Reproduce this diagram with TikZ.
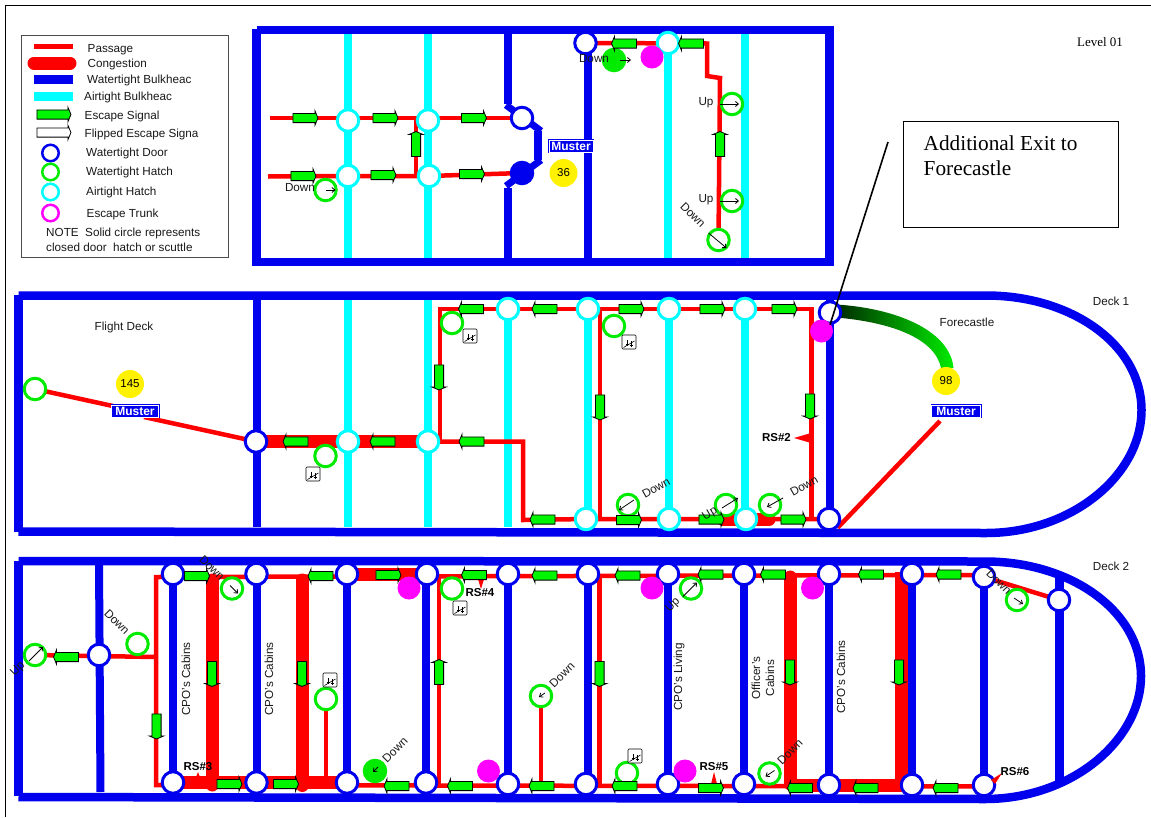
\documentclass[tikz,border=0pt]{standalone}
\usepackage{fontspec}
\setmainfont{Liberation Sans}
\newfontfamily\timesf{Liberation Serif}
\usetikzlibrary{shapes.arrows,arrows.meta,calc}
\definecolor{wtblue}{RGB}{0,0,238}
\definecolor{atcyan}{RGB}{0,255,255}
\definecolor{psred}{RGB}{255,0,0}
\definecolor{sgreen}{RGB}{0,235,0}
\definecolor{sigfill}{RGB}{0,245,0}
\definecolor{trunkm}{RGB}{255,0,255}
\definecolor{dkgreen}{RGB}{0,40,0}
\pgfdeclarelayer{bulk}
\pgfdeclarelayer{pass}
\pgfsetlayers{bulk,pass,main}
\tikzset{
  wt/.style={draw=wtblue,line width=8.5pt},
  wtv/.style={draw=wtblue,line width=8pt},
  atbh/.style={draw=atcyan,line width=8pt},
  passage/.style={draw=psred,line width=4.5pt,line join=miter},
  cong/.style={draw=psred,line width=13pt},
  congr/.style={cong,line cap=round},
  door/.style={circle,draw=wtblue,fill=white,line width=3pt,minimum size=21.5pt,inner sep=0pt},
  doors/.style={door,fill=wtblue},
  air/.style={door,draw=atcyan},
  hatch/.style={door,draw=sgreen},
  hatchs/.style={door,draw=sgreen,fill=sgreen},
  trunk/.style={circle,fill=trunkm,minimum size=23pt,inner sep=0pt},
  crowd/.style={circle,fill=yellow,minimum size=28pt,inner sep=0pt,font=\fontsize{11.5}{13}\selectfont},
  sig/.style={single arrow,draw=black,fill=sigfill,line width=.8pt,minimum height=25pt,
     inner xsep=0pt,inner ysep=4.2pt,single arrow head extend=2.6pt,single arrow tip angle=135},
  sigR/.style={sig},
  sigL/.style={sig,rotate=180},
  sigU/.style={sig,rotate=90},
  sigD/.style={sig,rotate=-90},
  muster/.style={rectangle,fill=wtblue,draw=wtblue,double=white,double distance=.8pt,line width=.6pt,text=white,
     font=\bfseries\fontsize{12}{13}\selectfont,minimum width=44pt,minimum height=12pt,inner sep=0pt},
  lbl/.style={font=\fontsize{11.7}{13}\selectfont,inner sep=0pt,text=black!90},
  lgd/.style={lbl,anchor=west},
  boldlbl/.style={font=\bfseries\fontsize{11.5}{13}\selectfont,inner sep=0pt},
  stair/.style={rectangle,draw=black,fill=white,rounded corners=1pt,line width=.6pt,minimum size=14pt,inner sep=0pt,
    path picture={
      \draw[line width=.6pt] ([shift={(1.5pt,1.5pt)}]path picture bounding box.south west) -- ([shift={(-1.5pt,-6pt)}]path picture bounding box.north east);
      \draw[line width=.6pt] ([shift={(-1.5pt,2pt)}]path picture bounding box.center) -- ++(0,-6pt);
      \draw[line width=.6pt] ([shift={(2pt,1pt)}]path picture bounding box.center) -- ++(0,-6pt);
      \draw[line width=.6pt] ([shift={(-3pt,-2.5pt)}]path picture bounding box.center) -- ++(3pt,0);
      \draw[line width=.6pt] ([shift={(.5pt,-3.5pt)}]path picture bounding box.center) -- ++(3pt,0);
    }},
  tinyarr/.style={draw=black,line width=.8pt,-{Straight Barb[length=3pt,width=5pt]}}
}
\begin{document}
\begin{tikzpicture}[x=1pt,y=-1pt]
\useasboundingbox (0,0) rectangle (1151,817);
% page frame
\coordinate (fTR) at (1151,5); \coordinate (fTL) at (5.5,5); \coordinate (fBL) at (5.5,817);
\draw[black,line width=1pt] (fTR) -- (fTL) -- (fBL);

% ---------- LEGEND ----------
\node (legend) [rectangle,draw=black!70,fill=white,line width=1pt,minimum width=207pt,minimum height=222pt,anchor=north west,inner sep=0pt] at (20.5,35) {};
\draw[psred,line width=5pt] (34,46) -- (73,46);
\draw[psred,line width=13pt,line cap=round] (34,63) -- (70,63);
\draw[wtblue,line width=9pt] (34,79) -- (73,79);
\draw[atcyan,line width=9pt] (34,96) -- (73,96);
\node (lgS) [sigR,minimum height=34pt] at (53,114.5) {};
\node (lgF) [sigR,minimum height=34pt,fill=white] at (53,132.5) {};
\node (lgD) [door,minimum size=16.5pt,line width=2.5pt] at (50.5,153) {};
\node (lgH) [hatch,minimum size=16.5pt,line width=2.5pt] at (50.5,172) {};
\node (lgA) [air,minimum size=16.5pt,line width=2.5pt] at (50.5,192) {};
\node (lgT) [hatch,draw=trunkm,minimum size=16.5pt,line width=2.5pt] at (50.5,213) {};
\node (lt1) [lgd] at (87.5,50) {Passage};
\node (lt2) [lgd] at (87.5,64.5) {Congestion};
\node (lt3) [lgd] at (87,80.5) {Watertight Bulkheac};
\node (lt4) [lgd] at (84,97.5) {Airtight Bulkheac};
\node (lt5) [lgd] at (84.5,116.5) {Escape Signal};
\node (lt6) [lgd] at (84.5,134) {Flipped Escape Signa};
\node (lt7) [lgd] at (86,153.5) {Watertight Door};
\node (lt8) [lgd] at (86,172.5) {Watertight Hatch};
\node (lt9) [lgd] at (86,192.5) {Airtight Hatch};
\node (lt10) [lgd] at (86.5,214) {Escape Trunk};
\node (lt11) [lgd] at (46,233.5) {NOTE\ \ Solid circle represents};
\node (lt12) [lgd] at (46,247.5) {closed door\ \ hatch or scuttle};

% ---------- LEVEL 01 ----------
\begin{pgfonlayer}{bulk}
\draw[wt] (257,30) -- (829,30);
\draw[wt] (253,262) -- (829,262);
\draw[wt] (256.5,29) -- (256.5,266);
\draw[wt] (829.5,26) -- (829.5,266);
\foreach \x in {348,428,668,745} \draw[atbh] (\x,34) -- (\x,258);
\draw[wtv] (508,34) -- (508,104);
\draw[wtv,line width=7pt] (506,105) -- (541,131);
\draw[wtv] (538,131) -- (538,160);
\draw[wtv,line width=7pt] (541,160) -- (506,186);
\draw[wtv] (508,188) -- (508,262);
\draw[wtv] (588,48) -- (588,262);
\end{pgfonlayer}
\node (aH1) [air] at (348,120.5) {};
\node (aH2) [air] at (428,120.5) {};
\node (aH3) [air] at (348,176) {};
\node (aH4) [air] at (429,176) {};
\node (aH5) [air] at (668,43) {};
\node (aD1) [door] at (522,118) {};
\node (aD2) [doors] at (522,173) {};
\node (aD3) [door] at (585.5,43) {};
\coordinate (aS1) at (270,118);
\coordinate (aS2) at (268,176.5);
\coordinate (aB1) at (707,43.5);
\coordinate (aB2) at (707,76);
\coordinate (aB3) at (720,78);
\coordinate (aT1) at (416,118);
\coordinate (aT2) at (416,175);
\node (aHd1) [hatch] at (325.5,190) {};
\node (aHd2) [hatchs] at (614,60) {};
\node (aHd3) [hatch] at (732,104) {};
\node (aHd4) [hatch] at (732,201) {};
\node (aHd5) [hatch] at (718.5,240) {};
\node (aTr) [trunk] at (652,57) {};
\node (aM) [muster] at (571,146) {Muster};
\node (aC) [crowd] at (563.5,173) {36};
\begin{pgfonlayer}{pass}
\draw[passage] (aS1) -- (aD1.center);
\draw[passage] (aS2) -- (aH3.center) -- (aH4.center) -- (aD2.center);
\draw[passage] (aT1) -- (aT2);
\draw[passage] (aD3.center) -- (aB1) -- (aB2) -- (aB3) -- (aHd5.center);
\end{pgfonlayer}
\node (as1) [sigR] at (304.5,118) {};
\node (as2) [sigR] at (384.5,118) {};
\node (as3) [sigR] at (473,118) {};
\node (as4) [sigR] at (302.5,176) {};
\node (as5) [sigR] at (382.5,175) {};
\node (as6) [sigR] at (471,174) {};
\node (as7) [sigU] at (416,145) {};
\node (as8) [sigL] at (625,43.5) {};
\node (as9) [sigL] at (692,43.5) {};
\node (as10) [sigU] at (720,145) {};
\draw[tinyarr] ([shift={(0,0)}]aHd1.center) -- ++(10,0);
\draw[tinyarr] ([shift={(6,0)}]aHd2.center) -- ++(11,0);
\draw[tinyarr] ([shift={(-12,0)}]aHd3.center) -- ++(19,0);
\draw[tinyarr] ([shift={(-12,0)}]aHd4.center) -- ++(19,0);
\draw[tinyarr] ([shift={(-10,-7)}]aHd5.center) -- ++(18,15);
\node (at1) [lbl] at (300,188) {Down};
\node (at2) [lbl] at (594,59) {Down};
\node (at3) [lbl] at (706,103) {Up};
\node (at4) [lbl] at (706,200) {Up};
\node (at5) [lbl,rotate=-45] at (693,215) {Down};
\node (at6) [font=\timesf\fontsize{13}{14}\selectfont,inner sep=0pt] at (1100,42) {Level 01};

% ---------- DECK 1 ----------
\begin{pgfonlayer}{bulk}
\draw[wt] (18.5,295.5) -- (986,295.5) .. controls (1072,295.5) and (1141.5,345) .. (1141.5,410) .. controls (1141.5,475) and (1072,533) .. (986,533) -- (18.5,531.5);
\draw[wt] (18.5,295) -- (18.5,532);
\draw[wtv] (257,298) -- (257,527);
\foreach \x in {348,428,508,588,669,745} \draw[atbh] (\x,300) -- (\x,527);
\draw[wtv] (830,300) -- (830,528);
\end{pgfonlayer}
\node (bD1) [door] at (256,441.5) {};
\node (bA1) [air] at (348,441.5) {};
\node (bA2) [air] at (428,441.5) {};
\node (bA3) [air] at (508,309) {};
\node (bA4) [air] at (588,309) {};
\node (bA5) [air] at (669,309) {};
\node (bA6) [air] at (745,309) {};
\node (bA7) [air] at (586,519) {};
\node (bA8) [air] at (669,519) {};
\node (bA9) [air] at (746,519) {};
\node (bD2) [door] at (830,312.5) {};
\node (bD3) [door] at (829,519) {};
\node (bH1) [hatch] at (35,389) {};
\node (bM1) [muster,minimum width=47pt] at (135,411) {Muster};
\node (bC1) [crowd] at (130,384) {145};
\node (bH2) [hatch] at (452,323) {};
\node (bH3) [hatch] at (325.5,456) {};
\node (bH4) [hatch] at (614,326) {};
\node (bH5) [hatch] at (628,505) {};
\node (bH6) [hatch] at (726,505) {};
\node (bH7) [hatch] at (770,505) {};
\node (bI1) [stair] at (470,336) {};
\node (bI2) [stair] at (313,474) {};
\node (bI3) [stair] at (629,342) {};
\node (bTr) [trunk] at (821.5,331) {};
\node (bC2) [crowd] at (946,381) {98};
\node (bM2) [muster,minimum width=49pt] at (956,411) {Muster};
\coordinate (bM1a) at (122,408);
\coordinate (bM1b) at (144,417);
\coordinate (bP1) at (440,441.5);
\coordinate (bP2) at (440,309);
\coordinate (bP3) at (523,441.5);
\coordinate (bP4) at (523,520);
\coordinate (bP5) at (600,309);
\coordinate (bP6) at (600,519);
\coordinate (bP7) at (811.5,309);
\coordinate (bP8) at (811.5,519);
\coordinate (bP9) at (940,421);
\coordinate (bC3) at (723,519.5);
\coordinate (bC4) at (769,519.5);
\begin{pgfonlayer}{pass}
\draw[passage] (bH1.center) -- (bM1a);
\draw[passage] (bM1b) -- (bD1.center);
\draw[cong] (bD1.center) -- (bA2.center);
\draw[passage] (bA2.center) -- (bP3) -- (bP4) -- (bA7.center) -- (bA8.center) -- (bD3.center);
\draw[passage] (bP1) -- (bP2) -- (bA3.center) -- (bA4.center) -- (bA5.center) -- (bA6.center) -- (bP7) -- (bP8);
\draw[passage] (bP5) -- (bP6);
\draw[congr] (bC3) -- (bC4);
\draw[passage] (bD3.south east) -- (bP9);
\shade[left color=dkgreen,right color=sgreen,middle color=green!55!black]
  (836,304.5) .. controls (895,308) and (950,330) .. (953.5,368) -- (941,368) .. controls (935,338) and (890,322) .. (836,317.5) -- cycle;
\end{pgfonlayer}
\fill[psred] (794,438) -- (811,433) -- (811,443) -- cycle;
\node (bs1) [sigL] at (472,309) {};
\node (bs2) [sigL] at (545.5,309) {};
\node (bs3) [sigR] at (630.5,309) {};
\node (bs4) [sigR] at (711.5,309) {};
\node (bs5) [sigR] at (783.5,309) {};
\node (bs6) [sigL] at (296.5,441.5) {};
\node (bs7) [sigL] at (383.5,441.5) {};
\node (bs8) [sigL] at (472.5,441.5) {};
\node (bs9) [sigD] at (439,376.5) {};
\node (bs10) [sigD] at (600,406.5) {};
\node (bs11) [sigD] at (810,405.5) {};
\node (bs12) [sigL] at (543.5,519.5) {};
\node (bs13) [sigR] at (628,520) {};
\node (bs14) [sigR] at (710.5,519.5) {};
\node (bs15) [sigR] at (792.5,519.5) {};
\draw[tinyarr] ([shift={(6,-5)}]bH5.center) -- ++(-15,10);
\draw[tinyarr] ([shift={(-4,3)}]bH6.center) -- ++(16,-10);
\draw[tinyarr] ([shift={(13,-7)}]bH7.center) -- ++(-16,9);
\node (bt1) [lbl] at (124,327.5) {Flight Deck};
\node (bt2) [lbl] at (967,322) {Forecastle};
\node (bt3) [lbl] at (1111,301) {Deck 1};
\node (bt4) [boldlbl] at (776.5,438) {RS\#2};
\node (bt5) [lbl,rotate=30] at (656,488) {Down};
\node (bt6) [lbl,rotate=30] at (710,514) {Up};
\node (bt7) [lbl,rotate=30] at (804,486) {Down};

% ---------- DECK 2 ----------
\begin{pgfonlayer}{bulk}
\draw[wt] (18.5,561) -- (985,561.5) .. controls (1072,561.5) and (1141,612) .. (1141,676) .. controls (1141,740) and (1072,799) .. (985,799) -- (18.5,797);
\draw[wt] (18.5,561) -- (18.5,796);
\draw[wtv] (99,561) -- (100.5,792);
\foreach \x in {173,256.5,347,426,508,588,668,744,829,912,984} \draw[wtv] (\x,562) -- (\x,790);
\draw[wtv,line width=9pt] (1059,578) -- (1059,785);
\end{pgfonlayer}
\node (cD0) [door] at (99,655) {};
\foreach \n/\x in {1/173,2/256.5,3/347,4/427} \node (cT\n) [door] at (\x,574) {};
\foreach \n/\x in {5/508,6/588,7/668,8/744,9/829,10/912} \node (cT\n) [door] at (\x,574) {};
\node (cT11) [door] at (984,577) {};
\node (cE) [door] at (1059,600) {};
\foreach \n/\x in {1/173,2/256.5,3/347,4/426} \node (cB\n) [door] at (\x,782.5) {};
\foreach \n/\x in {5/508,6/586,7/668,8/744} \node (cB\n) [door] at (\x,784) {};
\foreach \n/\x in {9/829,10/912,11/984} \node (cB\n) [door] at (\x,785) {};
\node (cH1) [hatch] at (35,655) {};
\node (cH2) [hatch] at (137.5,644) {};
\node (cH3) [hatch] at (232,588.5) {};
\node (cH4) [hatch] at (326,699) {};
\node (cH5) [hatchs] at (375,771) {};
\node (cH6) [hatch] at (452,588.5) {};
\node (cH7) [hatch] at (541,696) {};
\node (cH8) [hatch] at (627,773) {};
\node (cH9) [hatch] at (691,588.5) {};
\node (cH10) [hatch] at (769.5,773.5) {};
\node (cH11) [hatch] at (1017,600) {};
\node (cI1) [stair] at (330,680) {};
\node (cI2) [stair] at (460,608) {};
\node (cI3) [stair] at (635,756) {};
\node (cTr1) [trunk] at (409,588) {};
\node (cTr2) [trunk] at (488.5,771) {};
\node (cTr3) [trunk] at (652,588) {};
\node (cTr4) [trunk] at (685,771) {};
\node (cTr5) [trunk] at (812.5,588) {};
\coordinate (cP0) at (156,657);
\coordinate (cP1) at (156,577);
\coordinate (cP2) at (156,785);
\coordinate (cP3) at (984,575);
\coordinate (cP4) at (439,577);
\coordinate (cP5) at (439,785);
\coordinate (cP6) at (599.5,576);
\coordinate (cP7) at (599.5,786);
\coordinate (cP8) at (541,786);
\coordinate (cP9) at (326,782);
\coordinate (cP10) at (984,786.5);
\begin{pgfonlayer}{pass}
\draw[passage] (cH1.center) -- (cP0);
\draw[passage] (cP3) -- (cP1) -- (cP2) -- (cP10);
\draw[passage] (cT11.center) -- (cE.center);
\draw[passage] (cP4) -- (cP5);
\draw[passage] (cP6) -- (cP7);
\draw[passage] (cH7.center) -- (cP8);
\draw[passage] (cH4.center) -- (cP9);
\draw[cong] (cB1.center) -- (cB3.center);
\draw[cong] (cT3.center) -- (cT4.center);
\coordinate (cV1a) at (212,580); \coordinate (cV1b) at (212,785);
\coordinate (cV2a) at (302,580); \coordinate (cV2b) at (302,785.5);
\coordinate (cV3a) at (790,577); \coordinate (cV3b) at (790,784);
\coordinate (cV4a) at (901,572); \coordinate (cV4b) at (901,785.5);
\draw[congr] (cV1a) -- (cV1b);
\draw[congr] (cV2a) -- (cV2b);
\draw[congr] (cV3a) -- (cV3b);
\draw[cong] (cV4a) -- (cV4b);
\draw[cong] (cV3b |- cV4b) -- (cB10 |- cV4b);
\end{pgfonlayer}
\fill[psred] (481,589) -- (477,576) -- (485,576) -- cycle;
\fill[psred] (198,772) -- (196,777) -- (200,777) -- cycle;
\fill[psred] (714,772) -- (710.5,786) -- (717.5,786) -- cycle;
\fill[psred] (1002,773) -- (991,780) -- (995,784) -- cycle;
\node (cs0) [sigL] at (67,657) {};
\node (cs1) [sigD] at (156.5,725.5) {};
\node (cs2) [sigR] at (196,576) {};
\node (cs3) [sigL] at (321.5,576) {};
\node (cs4) [sigR] at (387.5,575) {};
\node (cs5) [sigL] at (475,575) {};
\node (cs6) [sigL] at (545.5,575.5) {};
\node (cs7) [sigL] at (628.5,575.5) {};
\node (cs8) [sigL] at (711.5,574.5) {};
\node (cs9) [sigL] at (774,574.5) {};
\node (cs10) [sigL] at (872,574.5) {};
\node (cs11) [sigL] at (949.5,574.5) {};
\node (cs12) [sigR] at (228.5,784) {};
\node (cs13) [sigR] at (285,784) {};
\node (cs14) [sigL] at (397.5,786) {};
\node (cs15) [sigL] at (461,786) {};
\node (cs16) [sigL] at (542.5,786) {};
\node (cs17) [sigL] at (625.5,786) {};
\node (cs18) [sigR] at (710,788) {};
\node (cs19) [sigL] at (801,788) {};
\node (cs20) [sigL] at (866.5,788) {};
\node (cs21) [sigL] at (946.5,788) {};
\node (cs22) [sigD] at (212,673) {};
\node (cs23) [sigD] at (302,673) {};
\node (cs24) [sigU] at (439,673) {};
\node (cs25) [sigD] at (599.5,673) {};
\node (cs26) [sigD] at (790,671.5) {};
\node (cs27) [sigD] at (899,671.5) {};
\draw[tinyarr] ([shift={(-6,6)}]cH1.center) -- ++(14,-14);
\draw[tinyarr] ([shift={(-2,-3)}]cH3.center) -- ++(8,8);
\draw[tinyarr] ([shift={(3,-4)}]cH5.center) -- ++(-5,5);
\draw[tinyarr] ([shift={(4,-3)}]cH7.center) -- ++(-6,4);
\draw[tinyarr] ([shift={(-8,8)}]cH9.center) -- ++(14,-14);
\draw[tinyarr] ([shift={(5,-3)}]cH10.center) -- ++(-9,6);
\draw[tinyarr] ([shift={(-3,-2)}]cH11.center) -- ++(9,6);
\node (ct1) [lbl] at (1111,566) {Deck 2};
\node (ct2) [lbl,rotate=45] at (18,669) {Up};
\node (ct3) [lbl,rotate=-45] at (117,622) {Down};
\node (ct4) [lbl,rotate=-45] at (212,568) {Down};
\node (ct5) [lbl,rotate=45] at (395,750) {Down};
\node (ct6) [lbl,rotate=45] at (562,675) {Down};
\node (ct7) [lbl,rotate=45] at (673,605) {Up};
\node (ct8) [lbl,rotate=45] at (790,752) {Down};
\node (ct9) [lbl,rotate=-45] at (999,582) {Down};
\node (ct10) [lbl,rotate=90] at (186,679) {CPO's Cabins};
\node (ct11) [lbl,rotate=90] at (269,679) {CPO's Cabins};
\node (ct12) [lbl,rotate=90] at (679,677) {CPO's Living};
\node (ct13) [lbl,rotate=90] at (756,678) {Officer's};
\node (ct14) [lbl,rotate=90] at (770,678) {Cabins};
\node (ct15) [lbl,rotate=90] at (841,677) {CPO's Cabins};
\node (ct16) [boldlbl] at (198,767) {RS\#3};
\node (ct17) [boldlbl] at (480,593) {RS\#4};
\node (ct18) [boldlbl] at (714,767) {RS\#5};
\node (ct19) [boldlbl] at (1015,772) {RS\#6};

% ---------- CALLOUT ----------
\node (call) [rectangle,draw=black,fill=white,line width=1.4pt,minimum width=215pt,minimum height=106pt,anchor=north west,inner sep=0pt] at (903,121) {};
\node (callt) [font=\timesf\fontsize{21.3}{25}\selectfont,align=left,anchor=north west,inner sep=0pt] at (923.5,136) {Additional Exit to\\Forecastle};
\coordinate (callS) at (888,142);
\draw[black,line width=1.6pt] (callS) -- (bD2.south);
\end{tikzpicture}
\end{document}
